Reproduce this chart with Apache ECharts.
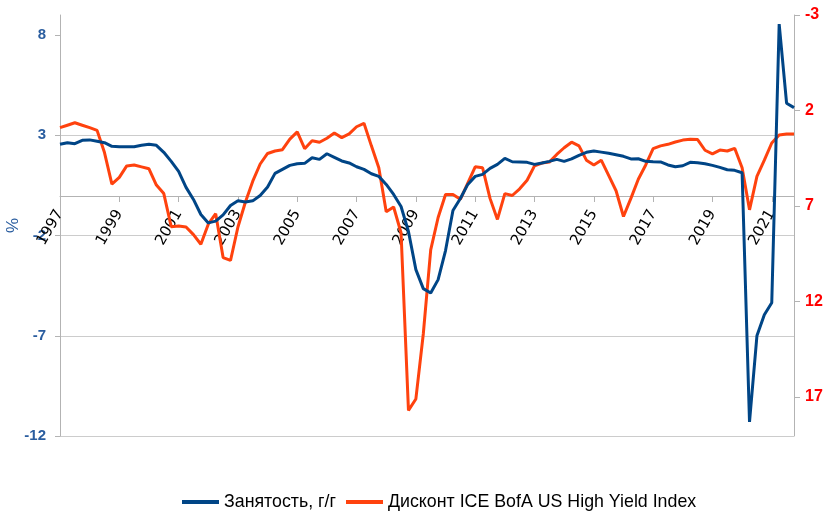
<!DOCTYPE html>
<html>
<head>
<meta charset="utf-8">
<script src="https://cdn.jsdelivr.net/npm/echarts@6/dist/echarts.min.js"></script>
<style>html,body{margin:0;padding:0;background:#fff}#c{width:835px;height:513px}</style>
</head>
<body>
<div id="c"></div>
<script>
const years = [1997,1998,1999,2000,2001,2002,2003,2004,2005,2006,2007,2008,2009,2010,2011,2012,2013,2014,2015,2016,2017,2018,2019,2020,2021];
const quarters = ['Q1','Q2','Q3','Q4'];
const categories = [];
years.forEach(y => quarters.forEach(q => categories.push(y + ' ' + q)));

// Employment, y/y, % (left axis), quarterly 1997Q1 - 2021Q4
const employment = [
  2.55, 2.63, 2.58, 2.75, 2.77, 2.70, 2.63, 2.45, 2.43, 2.43,
  2.43, 2.50, 2.55, 2.50, 2.15, 1.70, 1.20, 0.40, -0.20, -0.95,
  -1.37, -1.28, -0.97, -0.50, -0.27, -0.33, -0.27, 0.00, 0.42, 1.10,
  1.30, 1.50, 1.58, 1.60, 1.88, 1.80, 2.08, 1.90, 1.72, 1.62,
  1.43, 1.30, 1.08, 0.95, 0.55, 0.05, -0.55, -1.80, -3.70, -4.65,
  -4.87, -4.20, -2.75, -0.75, -0.15, 0.55, 0.95, 1.05, 1.35, 1.55,
  1.85, 1.68, 1.67, 1.65, 1.55, 1.62, 1.70, 1.80, 1.70, 1.82,
  2.00, 2.15, 2.22, 2.16, 2.10, 2.03, 1.95, 1.82, 1.83, 1.70,
  1.68, 1.67, 1.52, 1.43, 1.48, 1.65, 1.63, 1.58, 1.50, 1.40,
  1.28, 1.25, 1.13, -11.30, -7.00, -5.95, -5.35, 8.55, 4.60, 4.38
];

// ICE BofA US High Yield Index spread (right axis, inverted)
const hySpread = [
  2.90, 2.77, 2.64, 2.77, 2.90, 3.04, 4.20, 5.85, 5.50, 4.90,
  4.85, 4.95, 5.05, 5.90, 6.35, 8.08, 8.05, 8.10, 8.50, 9.00,
  7.95, 7.40, 9.70, 9.85, 8.10, 6.80, 5.70, 4.80, 4.25, 4.12,
  4.05, 3.50, 3.12, 4.00, 3.58, 3.66, 3.45, 3.18, 3.42, 3.22,
  2.85, 2.67, 3.85, 5.00, 7.30, 7.05, 8.40, 17.70, 17.10, 13.70,
  9.30, 7.60, 6.40, 6.40, 6.65, 5.80, 4.95, 5.00, 6.60, 7.70,
  6.35, 6.45, 6.10, 5.65, 4.90, 4.75, 4.70, 4.30, 3.95, 3.66,
  3.85, 4.60, 4.85, 4.60, 5.40, 6.20, 7.55, 6.60, 5.60, 4.85,
  4.00, 3.85, 3.77, 3.65, 3.55, 3.51, 3.52, 4.08, 4.27, 4.07,
  4.12, 3.98, 5.00, 7.20, 5.45, 4.60, 3.70, 3.28, 3.23, 3.23
];

const leftTicks = [-12, -7, -2, 3, 8];
const rightTicks = [-3, 2, 7, 12, 17];
const seriesNames = ['Занятость, г/г', 'Дисконт ICE BofA US High Yield Index'];

const chart = echarts.init(document.getElementById('c'), null, {renderer: 'canvas'});
chart.setOption({
  animation: false,
  backgroundColor: '#ffffff',
  grid: {left: 60, right: 41, top: 15, bottom: 77, containLabel: false, outerBoundsMode: 'none'},
  legend: {
    top: 488,
    left: 177,
    icon: 'rect',
    itemWidth: 37,
    itemHeight: 4,
    itemGap: 10,
    textStyle: {fontFamily: 'Liberation Sans', fontSize: 17.8, color: '#000'},
    data: seriesNames
  },
  xAxis: {
    type: 'category',
    data: categories,
    boundaryGap: false,
    offset: -240,
    axisLine: {onZero: false, lineStyle: {color: '#b3b3b3', width: 1}},
    axisTick: {show: true, interval: 7, length: 6, lineStyle: {color: '#b3b3b3'}},
    axisLabel: {
      interval: 7,
      rotate: 60,
      margin: 15,
      fontFamily: 'DejaVu Sans',
      fontSize: 15,
      color: '#000',
      formatter: v => v.split(' ')[0]
    },
    splitLine: {show: false}
  },
  yAxis: [
    {
      type: 'value',
      min: -12, max: 9, interval: 5,
      position: 'left',
      name: '%',
      nameLocation: 'middle',
      nameRotate: 90,
      nameGap: 38,
      nameMoveOverlap: false,
      nameTextStyle: {color: '#2a5d9f', fontSize: 17, fontFamily: 'Liberation Sans'},
      axisLine: {show: true, onZero: false, lineStyle: {color: '#b3b3b3'}},
      axisTick: {show: true, length: 5, customValues: leftTicks, lineStyle: {color: '#b3b3b3'}},
      axisLabel: {customValues: leftTicks, margin: 14, color: '#2a5d9f', fontWeight: 'bold', fontSize: 15, fontFamily: 'Liberation Sans'},
      splitLine: {show: true, showMaxLine: false, lineStyle: {color: '#cccccc', width: 1}}
    },
    {
      type: 'value',
      min: -3, max: 19.04,
      inverse: true,
      position: 'right',
      axisLine: {show: true, onZero: false, lineStyle: {color: '#b3b3b3'}},
      axisTick: {show: true, length: 6, customValues: rightTicks, lineStyle: {color: '#b3b3b3'}},
      axisLabel: {customValues: rightTicks, margin: 11, color: '#ff0000', fontWeight: 'bold', fontSize: 16, fontFamily: 'Liberation Sans'},
      splitLine: {show: false}
    }
  ],
  series: [
    {
      name: seriesNames[0],
      type: 'line',
      yAxisIndex: 0,
      data: employment,
      symbol: 'none',
      lineStyle: {color: '#004586', width: 3},
      itemStyle: {color: '#004586'},
      z: 3
    },
    {
      name: seriesNames[1],
      type: 'line',
      yAxisIndex: 1,
      data: hySpread,
      symbol: 'none',
      lineStyle: {color: '#ff420e', width: 3},
      itemStyle: {color: '#ff420e'},
      z: 2
    }
  ]
});
</script>
</body>
</html>
